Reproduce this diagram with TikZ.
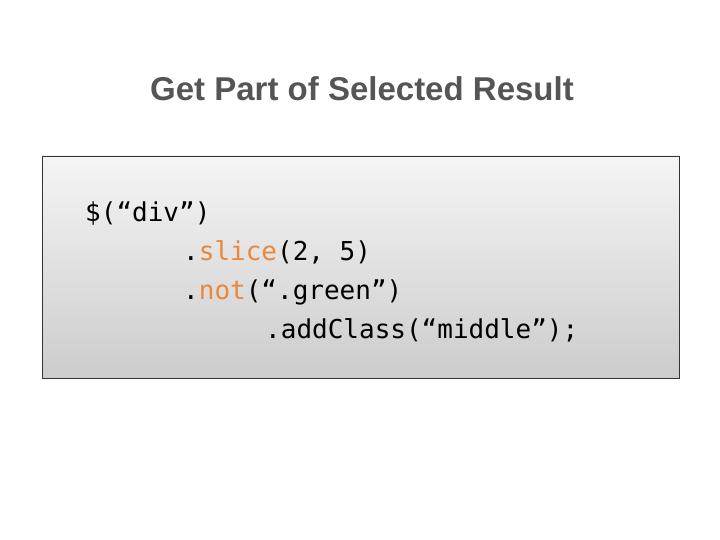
\documentclass[tikz,border=0pt]{standalone}
\usepackage{fontspec}
\setmainfont{Liberation Sans}
\newfontfamily\codefont{DejaVu Sans Mono}
\definecolor{titlegray}{HTML}{555555}
\definecolor{kw}{HTML}{E8883A}
\begin{document}
\begin{tikzpicture}[x=1pt,y=-1pt,
  code/.style={anchor=base west,inner sep=0pt,font=\codefont\fontsize{26}{30}\selectfont}]
\useasboundingbox (0,0) rectangle (720,540);
\node[font=\bfseries\fontsize{33}{38}\selectfont,text=titlegray] (title) at (362,89) {Get Part of Selected Result};
\shade[top color=gray!8,bottom color=gray!40] (42,156) rectangle (679,378);
\draw[black!80,line width=0.8pt] (42,156) rectangle (679,378);
\node[code] (l1) at (85,222) {\$(“div”)};
\node[code] (l2) at (183,260) {.\textcolor{kw}{slice}(2, 5)};
\node[code] (l3) at (183,299) {.\textcolor{kw}{not}(“.green”)};
\node[code] (l4) at (265,338) {.addClass(“middle”);};
\end{tikzpicture}
\end{document}
